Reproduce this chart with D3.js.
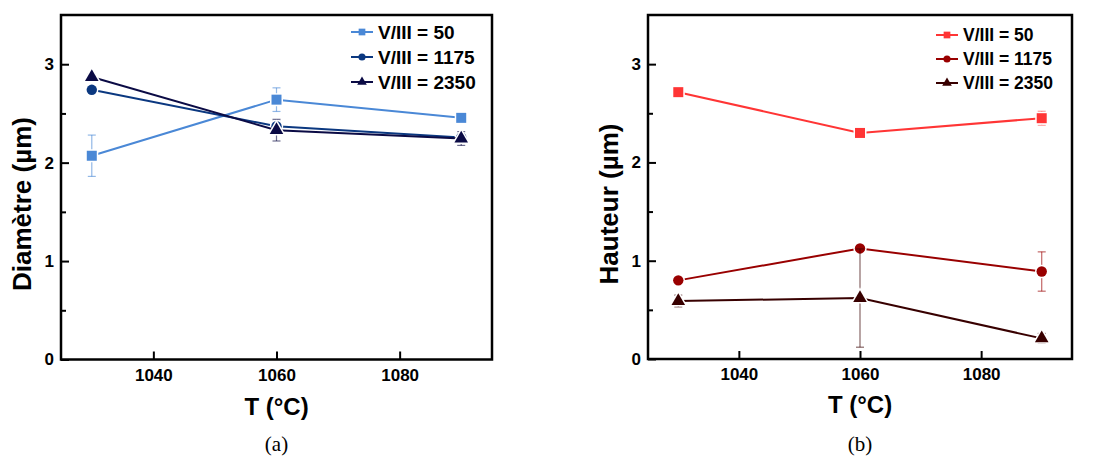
<!DOCTYPE html>
<html>
<head>
<meta charset="utf-8">
<script src="https://cdn.jsdelivr.net/npm/d3@7"></script>
<style>
  html, body { margin: 0; padding: 0; background: #fff; }
  svg { display: block; }
</style>
</head>
<body>
<svg id="chart" width="1110" height="458"></svg>
<script>
// ---- data ----
const temps = [1030, 1060, 1090];
const xTicks = [1040, 1060, 1080];
const yTicks = [0, 1, 2, 3];
const yMinorTicks = [0.5, 1.5, 2.5];
const seriesLabels = ["V/III = 50", "V/III = 1175", "V/III = 2350"];
const seriesShapes = ["square", "circle", "triangle"];

const diam50 = [2.07, 2.64, 2.455];
const diam50Err = [0.21, 0.12, 0.05];
const diam1175 = [2.74, 2.37, 2.255];
const diam1175Err = [0.03, 0.05, 0.04];
const diam2350 = [2.87, 2.33, 2.245];
const diam2350Err = [0.03, 0.11, 0.07];

const haut50 = [2.715, 2.30, 2.45];
const haut50Err = [0.03, 0.03, 0.07];
const haut1175 = [0.80, 1.125, 0.89];
const haut1175Err = [0.02, 0.03, 0.20];
const haut2350 = [0.59, 0.62, 0.21];
const haut2350Err = [0.06, 0.50, 0.05];

const bluePalette = ["#4a88d6", "#0b3880", "#0b0b45"];
const redPalette = ["#ff3535", "#990000", "#380000"];

const svg = d3.select("#chart");
const FONT = "'Liberation Sans', Arial, Helvetica, sans-serif";

function markerPath(shape, size) {
  const sym = shape === "square" ? d3.symbolSquare : shape === "circle" ? d3.symbolCircle : d3.symbolTriangle;
  return d3.symbol().type(sym).size(size)();
}
const markerArea = { square: 100, circle: 85, triangle: 80 };
const legendArea = { square: 45, circle: 40, triangle: 40 };

function drawPanel(cfg) {
  const g = svg.append("g");
  const x = d3.scaleLinear().domain([1025, 1095]).range([cfg.left, cfg.right]);
  const y = d3.scaleLinear().domain([0, 3.5]).range([cfg.bottom, cfg.top]);

  g.append("g")
    .attr("transform", `translate(${cfg.left},0)`)
    .call(d3.axisLeft(y).tickValues(yMinorTicks).tickSize(-5).tickFormat(""))
    .call(s => s.select(".domain").remove())
    .selectAll("line").attr("stroke", "#000").attr("stroke-width", 2);

  const ya = g.append("g")
    .attr("transform", `translate(${cfg.left},0)`)
    .call(d3.axisLeft(y).tickValues(yTicks).tickSizeInner(-8).tickSizeOuter(0).tickPadding(7).tickFormat(d3.format("d")));
  ya.select(".domain").remove();
  ya.selectAll("line").attr("stroke", "#000").attr("stroke-width", 2);
  ya.selectAll("text").attr("font-family", FONT).attr("font-weight", "bold").attr("font-size", 17).attr("fill", "#000");

  const xa = g.append("g")
    .attr("transform", `translate(0,${cfg.bottom})`)
    .call(d3.axisBottom(x).tickValues(xTicks).tickSizeInner(-8).tickSizeOuter(0).tickPadding(9).tickFormat(d3.format("d")));
  xa.select(".domain").remove();
  xa.selectAll("line").attr("stroke", "#000").attr("stroke-width", 2);
  xa.selectAll("text").attr("font-family", FONT).attr("font-weight", "bold").attr("font-size", 17).attr("fill", "#000");

  g.append("rect")
    .attr("x", cfg.left).attr("y", cfg.top)
    .attr("width", cfg.right - cfg.left).attr("height", cfg.bottom - cfg.top)
    .attr("fill", "none").attr("stroke", "#000").attr("stroke-width", 2.5);

  cfg.series.forEach((s, i) => {
    const color = cfg.colors[i];
    const pts = temps.map((t, k) => ({ t, v: s.values[k], e: s.errors[k] }));
    const sg = g.append("g");
    const eb = sg.selectAll(".eb").data(pts).enter().append("g").attr("stroke", color).attr("stroke-opacity", 0.6).attr("stroke-width", 1.2);
    eb.append("line").attr("x1", d => x(d.t)).attr("x2", d => x(d.t)).attr("y1", d => y(d.v - d.e)).attr("y2", d => y(d.v + d.e));
    eb.append("line").attr("x1", d => x(d.t) - 4).attr("x2", d => x(d.t) + 4).attr("y1", d => y(d.v - d.e)).attr("y2", d => y(d.v - d.e));
    eb.append("line").attr("x1", d => x(d.t) - 4).attr("x2", d => x(d.t) + 4).attr("y1", d => y(d.v + d.e)).attr("y2", d => y(d.v + d.e));
    sg.append("path").datum(pts)
      .attr("d", d3.line().x(d => x(d.t)).y(d => y(d.v)))
      .attr("fill", "none").attr("stroke", color).attr("stroke-width", 2);
    sg.selectAll(".mk").data(pts).enter().append("path")
      .attr("d", markerPath(seriesShapes[i], markerArea[seriesShapes[i]]))
      .attr("transform", d => `translate(${x(d.t)},${y(d.v)})`)
      .attr("fill", color).attr("stroke", "#fff").attr("stroke-width", 3)
      .attr("paint-order", "stroke");
  });

  const lg = g.append("g");
  seriesLabels.forEach((lab, i) => {
    const ly = cfg.legY + i * cfg.legStep;
    lg.append("line").attr("x1", cfg.legX).attr("x2", cfg.legX + 22).attr("y1", ly).attr("y2", ly)
      .attr("stroke", cfg.colors[i]).attr("stroke-width", 2);
    lg.append("path").attr("d", markerPath(seriesShapes[i], legendArea[seriesShapes[i]]))
      .attr("transform", `translate(${cfg.legX + 11},${ly})`).attr("fill", cfg.colors[i]);
    lg.append("text").attr("x", cfg.legX + 27).attr("y", ly).attr("dy", "0.36em")
      .attr("font-family", FONT).attr("font-weight", "bold").attr("font-size", cfg.legFont)
      .attr("fill", "#000").text(lab);
  });

  g.append("text")
    .attr("x", (cfg.left + cfg.right) / 2).attr("y", cfg.xTitleY)
    .attr("text-anchor", "middle").attr("font-family", FONT).attr("font-weight", "bold").attr("font-size", 24)
    .text("T (°C)");
  g.append("text")
    .attr("transform", `translate(${cfg.yTitleX},${cfg.yTitleCY}) rotate(-90)`)
    .attr("text-anchor", "middle").attr("font-family", FONT).attr("font-weight", "bold").attr("font-size", 26)
    .text(cfg.yTitle);
  g.append("text")
    .attr("x", (cfg.left + cfg.right) / 2).attr("y", 451)
    .attr("text-anchor", "middle").attr("font-family", "'Liberation Serif', 'DejaVu Serif', serif").attr("font-size", 21)
    .text(cfg.caption);
}

drawPanel({
  left: 61, right: 492, top: 15, bottom: 359.5,
  colors: bluePalette,
  series: [
    { values: diam50, errors: diam50Err },
    { values: diam1175, errors: diam1175Err },
    { values: diam2350, errors: diam2350Err }
  ],
  legX: 351, legY: 32, legStep: 25, legFont: 19,
  xTitleY: 415, yTitleX: 31, yTitleCY: 204,
  yTitle: "Diamètre (µm)", caption: "(a)"
});

drawPanel({
  left: 648, right: 1072, top: 15, bottom: 359,
  colors: redPalette,
  series: [
    { values: haut50, errors: haut50Err },
    { values: haut1175, errors: haut1175Err },
    { values: haut2350, errors: haut2350Err }
  ],
  legX: 936, legY: 35, legStep: 24, legFont: 17.5,
  xTitleY: 413, yTitleX: 618, yTitleCY: 204,
  yTitle: "Hauteur (µm)", caption: "(b)"
});
</script>
</body>
</html>
